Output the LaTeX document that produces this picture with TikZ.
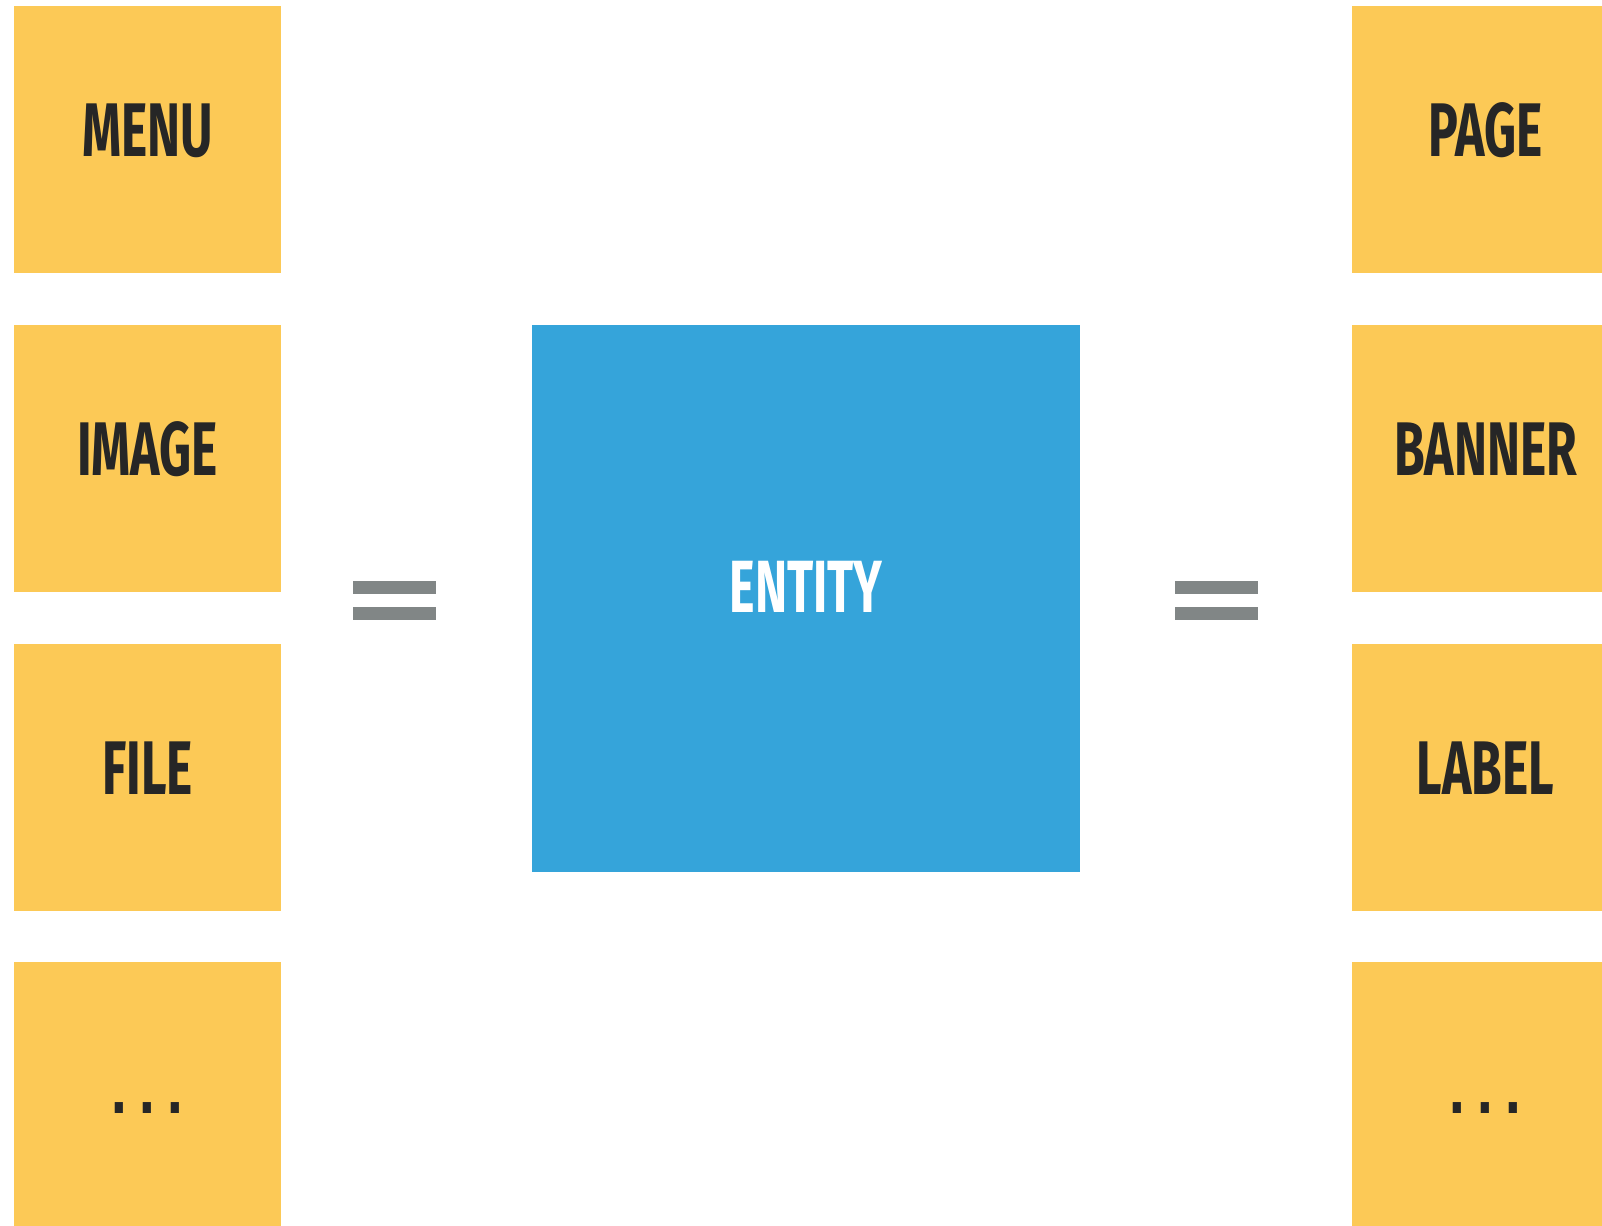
\documentclass[tikz,border=0pt]{standalone}
\usepackage{fontspec}
\newfontfamily\labelfont[FakeStretch=0.655]{Fira Sans}
\newfontfamily\dotfont[FakeStretch=0.8]{DejaVu Sans}
\definecolor{tileyellow}{HTML}{FCC956}
\definecolor{entityblue}{HTML}{35A4DA}
\definecolor{equalgray}{HTML}{818686}
\definecolor{labeldark}{HTML}{262626}
\tikzset{
  tile/.style={fill=tileyellow, draw=none, minimum width=267pt, minimum height=267pt, inner sep=0pt},
  tiletext/.style={anchor=base, inner sep=0pt, text=labeldark, font=\labelfont\bfseries\fontsize{76}{76}\selectfont},
  dottext/.style={anchor=base, inner sep=0pt, text=labeldark, font=\dotfont\bfseries\fontsize{58}{58}\selectfont},
  entitybox/.style={fill=entityblue, draw=none, minimum width=548pt, minimum height=547pt, inner sep=0pt},
  entitytext/.style={anchor=base, inner sep=0pt, text=white, font=\labelfont\bfseries\fontsize{74}{74}\selectfont},
  eqbar/.style={fill=equalgray, draw=none}
}
\newcommand{\moredots}{.\hspace{0.18em}.\hspace{0.18em}.}
\begin{document}
\begin{tikzpicture}[x=1pt, y=-1pt]
  \useasboundingbox (0,0) rectangle (1602,1225);
  \clip (0,0) rectangle (1602,1225);
  \fill[white] (0,0) rectangle (1602,1225);

  % left column of tiles
  \node[tile] (menu)  at (147.5,139.5) {};
  \node[tile] (image) at (147.5,458.2) {};
  \node[tile] (file)  at (147.5,777.0) {};
  \node[tile] (lmore) at (147.5,1095.5) {};
  \node[tiletext] (menut)  at ([yshift=-17.5pt]menu.center)  {MENU};
  \node[tiletext] (imaget) at ([yshift=-17.5pt]image.center) {IMAGE};
  \node[tiletext] (filet)  at ([yshift=-17.5pt]file.center)  {FILE};
  \node[dottext]  (lmoret) at ([yshift=-17.5pt]lmore.center) {\moredots};

  % right column of tiles
  \node[tile] (page)   at (1485.5,139.5) {};
  \node[tile] (banner) at (1485.5,458.2) {};
  \node[tile] (label)  at (1485.5,777.0) {};
  \node[tile] (rmore)  at (1485.5,1095.5) {};
  \node[tiletext] (paget)   at ([yshift=-17.5pt]page.center)   {PAGE};
  \node[tiletext] (bannert) at ([yshift=-17.5pt]banner.center) {BANNER};
  \node[tiletext] (labelt)  at ([yshift=-17.5pt]label.center)  {LABEL};
  \node[dottext]  (rmoret)  at ([yshift=-17.5pt]rmore.center)  {\moredots};

  % central entity
  \node[entitybox] (entity) at (806,598.5) {};
  \node[entitytext] (entityt) at ([yshift=-13.8pt]entity.center) {ENTITY};

  % equals signs
  \fill[eqbar] (353,581) rectangle (436,594);
  \fill[eqbar] (353,607) rectangle (436,620);
  \fill[eqbar] (1174.5,581) rectangle (1257.5,594);
  \fill[eqbar] (1174.5,607) rectangle (1257.5,620);
\end{tikzpicture}
\end{document}
